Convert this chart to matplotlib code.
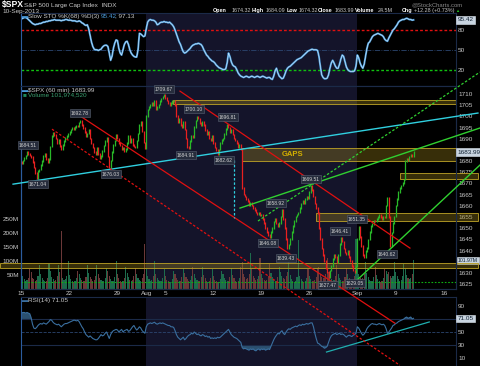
import matplotlib
matplotlib.use("Agg")
import matplotlib.pyplot as plt
from matplotlib.patches import Rectangle
from matplotlib.transforms import blended_transform_factory
import numpy as np

plt.rcParams['font.family'] = ['Liberation Sans', 'DejaVu Sans']

# hourly bars, 7 per trading day, 15 Jul - 10 Sep 2013
first_open = 1679.6
closes = [
    1679.0, 1680.2, 1681.4, 1682.6, 1684.3, 1683.1, 1682.5,   # Jul 15
    1681.8, 1679.6, 1677.2, 1674.8, 1672.4, 1675.6, 1676.3,   # Jul 16
    1678.3, 1680.1, 1682.4, 1683.2, 1681.0, 1679.4, 1680.9,   # Jul 17
    1686.5, 1691.2, 1692.8, 1691.6, 1690.2, 1688.1, 1689.4,   # Jul 18
    1686.8, 1685.3, 1687.2, 1689.1, 1690.4, 1691.3, 1692.1,   # Jul 19
    1693.1, 1694.2, 1695.0, 1694.1, 1695.2, 1696.0, 1695.5,   # Jul 22
    1697.2, 1698.2, 1696.1, 1694.8, 1692.9, 1691.1, 1692.4,   # Jul 23
    1694.0, 1690.2, 1687.9, 1686.1, 1684.2, 1683.1, 1685.9,   # Jul 24
    1683.2, 1681.4, 1682.3, 1684.5, 1687.0, 1688.9, 1690.3,   # Jul 25
    1682.0, 1677.2, 1680.3, 1684.1, 1687.2, 1689.3, 1691.6,   # Jul 26
    1690.1, 1688.2, 1686.9, 1685.2, 1686.1, 1684.3, 1685.3,   # Jul 29
    1688.0, 1691.2, 1688.4, 1690.1, 1687.3, 1686.5, 1686.0,   # Jul 30
    1689.2, 1692.4, 1696.1, 1697.8, 1693.2, 1688.4, 1685.7,   # Jul 31
    1700.2, 1703.1, 1704.2, 1705.0, 1706.1, 1705.2, 1706.9,   # Aug 1
    1703.4, 1704.1, 1705.3, 1707.0, 1708.1, 1709.0, 1709.7,   # Aug 2
    1708.2, 1707.1, 1706.0, 1705.2, 1706.1, 1707.0, 1707.1,   # Aug 5
    1705.0, 1700.3, 1697.2, 1699.1, 1696.2, 1695.1, 1697.4,   # Aug 6
    1694.1, 1690.2, 1686.3, 1685.6, 1689.0, 1691.2, 1690.9,   # Aug 7
    1695.2, 1698.1, 1699.8, 1699.0, 1697.1, 1696.0, 1697.5,   # Aug 8
    1696.2, 1694.0, 1692.1, 1693.2, 1690.1, 1689.2, 1691.4,   # Aug 9
    1688.1, 1686.0, 1684.9, 1683.3, 1685.2, 1688.0, 1689.5,   # Aug 12
    1690.2, 1692.1, 1694.3, 1696.2, 1695.1, 1693.0, 1694.2,   # Aug 13
    1692.0, 1690.1, 1689.2, 1688.0, 1686.1, 1687.2, 1685.4,   # Aug 14
    1668.0, 1665.1, 1664.2, 1663.0, 1662.1, 1660.2, 1661.3,   # Aug 15
    1660.1, 1659.0, 1658.2, 1657.1, 1656.2, 1657.0, 1655.8,   # Aug 16
    1656.1, 1654.0, 1652.2, 1650.1, 1648.2, 1647.0, 1646.1,   # Aug 19
    1648.2, 1650.1, 1653.0, 1654.2, 1652.1, 1651.0, 1652.4,   # Aug 20
    1655.2, 1658.1, 1654.0, 1650.2, 1645.1, 1641.0, 1642.8,   # Aug 21
    1645.1, 1648.2, 1651.0, 1653.1, 1655.2, 1656.1, 1657.0,   # Aug 22
    1659.1, 1661.0, 1662.2, 1661.1, 1663.0, 1664.2, 1663.5,   # Aug 23
    1666.2, 1669.0, 1667.1, 1664.2, 1661.0, 1659.1, 1656.8,   # Aug 26
    1650.1, 1645.2, 1641.0, 1638.1, 1635.2, 1632.0, 1630.5,   # Aug 27
    1628.2, 1631.0, 1633.1, 1636.2, 1638.0, 1637.1, 1635.0,   # Aug 28
    1638.1, 1643.0, 1645.9, 1644.1, 1641.0, 1639.2, 1638.2,   # Aug 29
    1640.1, 1637.0, 1635.2, 1633.1, 1631.0, 1630.2, 1633.0,   # Aug 30
    1645.1, 1650.8, 1646.1, 1642.0, 1638.1, 1637.2, 1639.8,   # Sep 3
    1641.1, 1645.0, 1648.2, 1651.1, 1652.0, 1653.2, 1653.1,   # Sep 4
    1654.1, 1655.0, 1656.2, 1655.1, 1654.0, 1655.2, 1655.1,   # Sep 5
    1660.1, 1663.8, 1655.0, 1642.0, 1648.1, 1652.2, 1655.2,   # Sep 6
    1660.1, 1663.0, 1666.1, 1668.0, 1669.1, 1670.2, 1671.7,   # Sep 9
    1680.1, 1681.0, 1680.2, 1682.1, 1683.0, 1682.2, 1684.0,   # Sep 10
]

# millions of shares per bar
volumes = [
    125, 45, 35, 30, 32, 40, 70,
    60, 40, 35, 30, 33, 45, 85,
    55, 40, 32, 28, 30, 38, 90,
    65, 42, 35, 30, 33, 45, 85,
    60, 207, 38, 32, 35, 48, 100,
    50, 35, 30, 25, 28, 40, 65,
    55, 40, 32, 28, 30, 42, 85,
    58, 42, 35, 30, 33, 45, 85,
    55, 40, 33, 28, 30, 40, 75,
    65, 45, 35, 28, 30, 42, 100,
    52, 38, 30, 26, 28, 38, 80,
    58, 42, 33, 28, 32, 45, 75,
    55, 40, 32, 30, 38, 55, 160,
    70, 45, 35, 30, 32, 45, 100,
    55, 40, 32, 28, 30, 40, 70,
    45, 32, 28, 24, 26, 35, 65,
    55, 40, 32, 28, 30, 42, 75,
    58, 42, 35, 30, 32, 45, 80,
    55, 40, 33, 28, 30, 42, 80,
    50, 38, 30, 26, 28, 38, 70,
    45, 32, 28, 24, 26, 35, 65,
    55, 40, 32, 28, 30, 42, 75,
    50, 38, 30, 26, 30, 40, 80,
    95, 55, 42, 35, 38, 55, 130,
    70, 48, 38, 32, 35, 48, 110,
    55, 40, 32, 28, 32, 45, 90,
    58, 42, 33, 28, 30, 42, 80,
    60, 45, 38, 35, 45, 60, 95,
    50, 36, 30, 26, 30, 42, 175,
    48, 35, 28, 25, 28, 38, 70,
    45, 35, 30, 28, 32, 42, 75,
    80, 55, 42, 38, 40, 55, 110,
    62, 45, 35, 30, 32, 45, 85,
    55, 40, 32, 28, 30, 42, 75,
    52, 38, 30, 28, 32, 45, 180,
    75, 52, 40, 35, 38, 52, 95,
    58, 42, 33, 28, 30, 42, 80,
    50, 36, 30, 26, 28, 38, 70,
    65, 55, 60, 45, 40, 48, 95,
    60, 45, 35, 30, 32, 45, 90,
    70, 50, 40, 35, 38, 55, 102,
]

sto = [
    97, 98, 99, 99, 98, 96, 94,
    92, 90, 89, 88, 89, 89, 90,
    90, 91, 92, 92, 93, 93, 94,
    94, 95, 95, 96, 95, 95, 95,
    95, 94, 95, 95, 96, 96, 95,
    95, 95, 94, 94, 94, 93, 93,
    94, 93, 91, 90, 88, 87, 88,
    82, 72, 62, 55, 51, 50, 50,
    49, 50, 51, 54, 56, 57, 57,
    55, 45, 34, 40, 52, 60, 65,
    64, 52, 45, 42, 50, 58, 62,
    63, 58, 50, 45, 42, 40, 39,
    39, 50, 75, 74, 72, 70, 71,
    82, 92, 95, 96, 95, 95, 94,
    92, 88, 89, 91, 92, 92, 93,
    92, 92, 91, 92, 90, 88, 85,
    80, 74, 68, 62, 58, 52, 47,
    45, 46, 48, 50, 52, 55, 57,
    58, 59, 59, 60, 59, 58, 55,
    50, 46, 42, 40, 37, 35, 33,
    32, 30, 27, 25, 23, 22, 21,
    20, 20, 21, 30, 45, 40, 32,
    27, 25, 24, 20, 15, 12, 10,
    9, 8, 9, 10, 9, 8, 9,
    10, 9, 8, 9, 10, 9, 8,
    9, 10, 9, 8, 7, 8, 8,
    6, 5, 10, 18, 22, 15, 10,
    8, 6, 7, 12, 18, 22, 24,
    25, 27, 29, 31, 33, 35, 36,
    37, 38, 40, 42, 44, 46, 48,
    49, 50, 51, 50, 50, 50, 49,
    40, 25, 12, 8, 6, 6, 7,
    12, 22, 30, 34, 30, 25, 22,
    22, 28, 36, 42, 40, 32, 24,
    20, 18, 17, 17, 17, 18, 25,
    42, 38, 30, 25, 22, 28, 40,
    52, 60, 62, 66, 70, 72, 73,
    74, 75, 74, 73, 72, 70, 66,
    64, 63, 68, 72, 76, 80, 82,
    85, 88, 92, 94, 95, 96, 96,
    97, 98, 97, 96, 96, 95, 95.42,
]

rsi = [
    79, 80, 80, 79, 80, 79, 78,
    72, 62, 56, 55, 57, 60, 62,
    63, 62, 64, 63, 62, 64, 66,
    69, 68, 65, 63, 62, 61, 62,
    60, 58, 60, 62, 63, 63, 64,
    65, 66, 67, 68, 68, 67, 68,
    66, 62, 58, 55, 50, 46, 44,
    42, 44, 42, 40, 39, 38, 38,
    40, 43, 46, 44, 45, 48, 50,
    45, 40, 46, 50, 52, 53, 54,
    53, 50, 52, 54, 50, 52, 53,
    54, 51, 52, 55, 58, 60, 56,
    53, 55, 58, 56, 52, 50, 48,
    58, 62, 63, 64, 63, 64, 65,
    63, 62, 63, 64, 63, 64, 63,
    62, 61, 60, 60, 58, 58, 57,
    52, 46, 42, 40, 38, 40, 42,
    38, 40, 43, 45, 46, 48, 47,
    50, 48, 46, 47, 45, 44, 46,
    45, 43, 44, 42, 43, 40, 41,
    40, 41, 40, 42, 41, 42, 44,
    46, 48, 50, 52, 54, 50, 46,
    44, 42, 41, 40, 38, 36, 34,
    26, 24, 25, 24, 23, 22, 24,
    23, 24, 22, 21, 23, 24, 22,
    24, 23, 24, 22, 23, 24, 23,
    28, 33, 38, 42, 45, 48, 47,
    50, 52, 48, 46, 50, 53, 55,
    54, 56, 57, 58, 59, 58, 60,
    61, 60, 62, 61, 62, 63, 62,
    63, 64, 64, 58, 48, 40, 33,
    32, 30, 28, 27, 25, 26, 28,
    34, 40, 44, 46, 47, 48, 46,
    47, 48, 46, 47, 46, 44, 42,
    44, 45, 44, 43, 45, 46, 48,
    58, 56, 52, 48, 45, 47, 50,
    55, 58, 60, 62, 63, 62, 62,
    61, 62, 63, 62, 61, 62, 60,
    55, 48, 50, 53, 56, 60, 61,
    63, 64, 66, 67, 68, 69, 70,
    72, 73, 71, 72, 73, 70, 71.05,
]

tick_pos = [0, 35, 70, 91, 105, 140, 175, 210, 245, 273, 308]
tick_labels = ["15", "22", "29", "Aug", "5", "12", "19", "26", "Sep", "9", "16"]
aug_start, sep_start = 90.5, 244.5

# annotated highs / lows: text, bar, price of the box
note_text = ["1684.51", "1671.04", "1692.78", "1676.03", "1709.67", "1700.10",
             "1684.91", "1696.81", "1682.62", "1658.92", "1669.51", "1646.08",
             "1639.43", "1646.41", "1651.35", "1627.47", "1629.05", "1640.62"]
note_bar = [4.7, 12.0, 42.7, 65.3, 103.9, 125.8, 120.0, 150.6, 147.7, 185.6,
            211.2, 179.8, 192.9, 232.3, 244.7, 223.6, 243.2, 266.6]
note_price = [1687.2, 1669.7, 1701.5, 1674.2, 1712.2, 1703.3, 1682.7, 1699.7,
              1680.5, 1661.2, 1672.0, 1643.3, 1636.6, 1648.7, 1654.1, 1624.5,
              1625.4, 1638.4]

# trend lines: (bar0, price0, bar1, price1)
cyan_line = (-6.2, 1669.7, 333.0, 1701.5)
red_a = (115.6, 1711.3, 283.4, 1641.1)
red_b = (40.5, 1701.1, 272.4, 1607.5)
red_c = (22.2, 1694.3, 276.0, 1588.7)
green_1 = (159.4, 1659.0, 334.4, 1694.8)
green_2 = (172.5, 1653.2, 334.4, 1719.8)
green_3 = (243.2, 1625.9, 334.4, 1678.2)
gap_marker = (155.0, 1680.5, 1654.5)

# shaded zones: (bar0, bar1, low, high)
zones = [(110.5, 317, 1705.7, 1707.3),
         (161.0, 317, 1680.0, 1685.8),
         (276.0, 333, 1672.0, 1674.7),
         (215.0, 333, 1653.2, 1656.8),
         (-15.7, 333, 1632.1, 1634.4)]
support_level = 1625.9

rsi_trend = (222.5, 19.2, 297.5, 65.4)

BG = "black"
SHADE = "#14142a"
FRAME = "#1b2a48"
TXT = "#c8c8c8"
FS = 4.6

n = len(closes)
x = np.arange(n)
c = np.array(closes)
o = np.r_[first_open, c[:-1]]
up = c >= o

fig = plt.figure(figsize=(4.8, 3.66), dpi=100, facecolor=BG)
L, W = 21 / 480, 435 / 480
ax_sto = fig.add_axes([L, 1 - 86 / 366, W, 73 / 366], zorder=1)
ax_vol = fig.add_axes([L, 1 - 289 / 366, W, 203 / 366], zorder=1)
ax_main = fig.add_axes([L, 1 - 289 / 366, W, 203 / 366], zorder=3)
ax_rsi = fig.add_axes([L, 0, W, 69 / 366], zorder=1)
ax_main.set_facecolor("none")

for ax in (ax_sto, ax_vol, ax_main, ax_rsi):
    ax.set_xlim(-0.4, 317)
    for s in ax.spines.values():
        s.set_color(FRAME)
        s.set_linewidth(0.8)
    ax.spines["left"].set_color("#2b5c9e")
    ax.tick_params(length=0, colors=TXT, labelsize=FS, pad=1.5)
    ax.set_xticks([])
for ax in (ax_sto, ax_vol, ax_rsi):
    ax.set_facecolor(BG)
    ax.axvspan(aug_start, sep_start, color=SHADE, lw=0, zorder=0)

# ---- stochastic panel
ax_sto.set_ylim(-5, 105.9)
ax_sto.axhline(80, color="#e01010", lw=1.0, ls=(0, (2, 1.5)))
ax_sto.axhline(20, color="#10c010", lw=1.0, ls=(0, (2, 1.5)))
ax_sto.axhline(50, color="#2c4670", lw=0.6, ls="-.")
ax_sto.plot(x, sto, color="#4a9ad8", lw=1.4)
ax_sto.plot(x, sto, color="#d8eeff", lw=0.4)
ax_sto.yaxis.tick_right()
ax_sto.set_yticks([20, 50, 80])
ax_sto.text(0.5, 101, "\u25ac", color="#4a9ad8", fontsize=FS, va="center")
ax_sto.text(4.5, 101, "Slow STO %K(68) %D(3)", color=TXT, fontsize=FS, va="center")
ax_sto.text(58, 101, "95.42", color="#4a9ad8", fontsize=FS, va="center")
ax_sto.text(68.5, 101, ", 97.13", color=TXT, fontsize=FS, va="center")

# ---- volume (behind price)
vol = np.array(volumes) * 1e6
ax_vol.bar(x, vol, width=0.8, color=np.where(up, "#1d6b4c", "#6b3838"), lw=0)
ax_vol.set_ylim(0, 725e6)
ax_vol.set_yticks([50e6, 100e6, 150e6, 200e6, 250e6])
ax_vol.set_yticklabels(["50M", "100M", "150M", "200M", "250M"])

# ---- price panel
ax_main.set_ylim(1622.8, 1713.6)
colors = np.where(up, "#28b828", "#e82020")
ax_main.vlines(x, np.minimum(o, c) - 0.35, np.maximum(o, c) + 0.35,
               colors=colors, lw=0.9, zorder=3)
ax_main.yaxis.tick_right()
price_ticks = list(range(1625, 1711, 5))
ax_main.set_yticks(price_ticks)
ax_main.set_yticklabels(["" if p in (1635, 1685) else str(p) for p in price_ticks])
ax_main.set_xticks(tick_pos)
ax_main.set_xticklabels(tick_labels)
ax_main.tick_params(axis="x", pad=1.2)

for (b0, b1, lo, hi) in zones:
    ax_main.add_patch(Rectangle((b0, lo), b1 - b0, hi - lo, facecolor=(0.62, 0.52, 0.1, 0.35),
                                edgecolor=(0.72, 0.62, 0.15, 0.9), lw=0.7, clip_on=False, zorder=2))
ax_main.text(198, 1682.9, "GAPS", color="#d4b000", fontsize=5.5, fontweight="bold",
             ha="center", va="center", zorder=4)
ax_main.axhline(support_level, color="#10b010", lw=0.8, ls=(0, (1.5, 1.5)), zorder=2)

def seg(line, **kw):
    ax_main.plot([line[0], line[2]], [line[1], line[3]], clip_on=False, zorder=5, **kw)

seg(cyan_line, color="#30d0e0", lw=1.0)
seg(red_a, color="#e01010", lw=0.9)
seg(red_b, color="#e01010", lw=0.9)
seg(red_c, color="#e01010", lw=0.9, ls=(0, (2, 1.5)))
seg(green_1, color="#30d030", lw=1.0)
seg(green_2, color="#30d030", lw=0.9, ls=(0, (2, 1.5)))
seg(green_3, color="#30d030", lw=1.0)
ax_main.plot([gap_marker[0]] * 2, gap_marker[1:], color="#30d0e0", lw=0.9, ls=(0, (2, 1.5)), zorder=5)

for t, b, p in zip(note_text, note_bar, note_price):
    ax_main.text(b, p, t, fontsize=3.6, color="#d0d0d0", ha="center", va="center", zorder=6,
                 bbox=dict(boxstyle="square,pad=0.25", fc="#262c3c", ec="#5a6272", lw=0.4))

ax_main.text(0.5, 1711.6, "\u25ac", color="#4a9ad8", fontsize=FS, va="center")
ax_main.text(4.5, 1711.6, "$SPX (60 min) 1683.99", color=TXT, fontsize=FS, va="center")
ax_main.text(0.5, 1709.8, "\u25a0", color="#1d8b5c", fontsize=FS, va="center")
ax_main.text(4.5, 1709.8, "Volume 101,974,520", color="#3aa070", fontsize=FS, va="center")

box = dict(boxstyle="square,pad=0.2", fc="#c8d4e0", ec="#e0e8f0", lw=0.4)
tr = blended_transform_factory(ax_main.transAxes, ax_main.transData)
ax_main.text(1.004, 1683.99, "1683.99", transform=tr, fontsize=FS, color="#102030",
             va="center", bbox=box, zorder=7)
trv = blended_transform_factory(ax_vol.transAxes, ax_vol.transData)
ax_vol.text(1.004, vol[-1], "101.97M", transform=trv, fontsize=3.7,
            color="#102030", va="center", bbox=box, zorder=7, clip_on=False)
trs = blended_transform_factory(ax_sto.transAxes, ax_sto.transData)
ax_sto.text(1.004, 95.42, "95.42", transform=trs, fontsize=FS, color="#102030", va="center", bbox=box)

# ---- RSI panel
ax_rsi.set_ylim(-2.3, 103.8)
r = np.array(rsi)
ax_rsi.axhline(70, color=FRAME, lw=0.8)
ax_rsi.axhline(30, color=FRAME, lw=0.8)
ax_rsi.axhline(50, color="#2c4670", lw=0.6, ls="--")
ax_rsi.fill_between(x, r, 70, where=r > 70, color="#2b5070", lw=0, interpolate=True)
ax_rsi.fill_between(x, r, 30, where=r < 30, color="#2b5070", lw=0, interpolate=True)
ax_rsi.plot(x, r, color="#3a6f9f", lw=0.8)
ax_rsi.plot([rsi_trend[0], rsi_trend[2]], [rsi_trend[1], rsi_trend[3]], color="#20b0b0", lw=0.9)
ax_rsi.yaxis.tick_right()
ax_rsi.set_yticks([10, 30, 50, 90])
tr_r = blended_transform_factory(ax_rsi.transAxes, ax_rsi.transData)
ax_rsi.text(1.004, 71.05, "71.05", transform=tr_r, fontsize=FS, color="#102030", va="center", bbox=box)
ax_rsi.text(0.5, 99, "\u25ac", color="#3a6f9f", fontsize=FS, va="center")
ax_rsi.text(4.5, 99, "RSI(14) 71.05", color=TXT, fontsize=FS, va="center")

# ---- header
def ft(px, py, s, **kw):
    fig.text(px / 480, 1 - py / 366, s, va="center", fontsize=kw.pop("fontsize", FS),
             color=kw.pop("color", "white"), **kw)

ft(2, 5, "$SPX", fontsize=6.2, fontweight="bold")
ft(24, 5, "S&P 500 Large Cap Index  INDX", color=TXT)
ft(2, 11, "10-Sep-2013", color=TXT)
ft(412, 4.5, "@StockCharts.com", color="#8a8a8a", fontsize=4.2)
header = [(213, "Open", True), (232, "1674.32", False), (252, "High", True),
          (266, "1684.09", False), (287, "Low", True), (299, "1674.32", False),
          (318, "Close", True), (335, "1683.99", False), (355, "Volume", True),
          (378, "24.5M", False), (402, "Chg", True), (414, "+12.28 (+0.73%)", False)]
for px, s, b in header:
    ft(px, 10.5, s, color="white" if b else TXT, fontweight="bold" if b else "normal",
       fontsize=3.9)
ft(455, 10.5, "\u25b2", color="#20c020", fontsize=3.0)

fig.savefig("out.png", dpi=100, facecolor=BG)
